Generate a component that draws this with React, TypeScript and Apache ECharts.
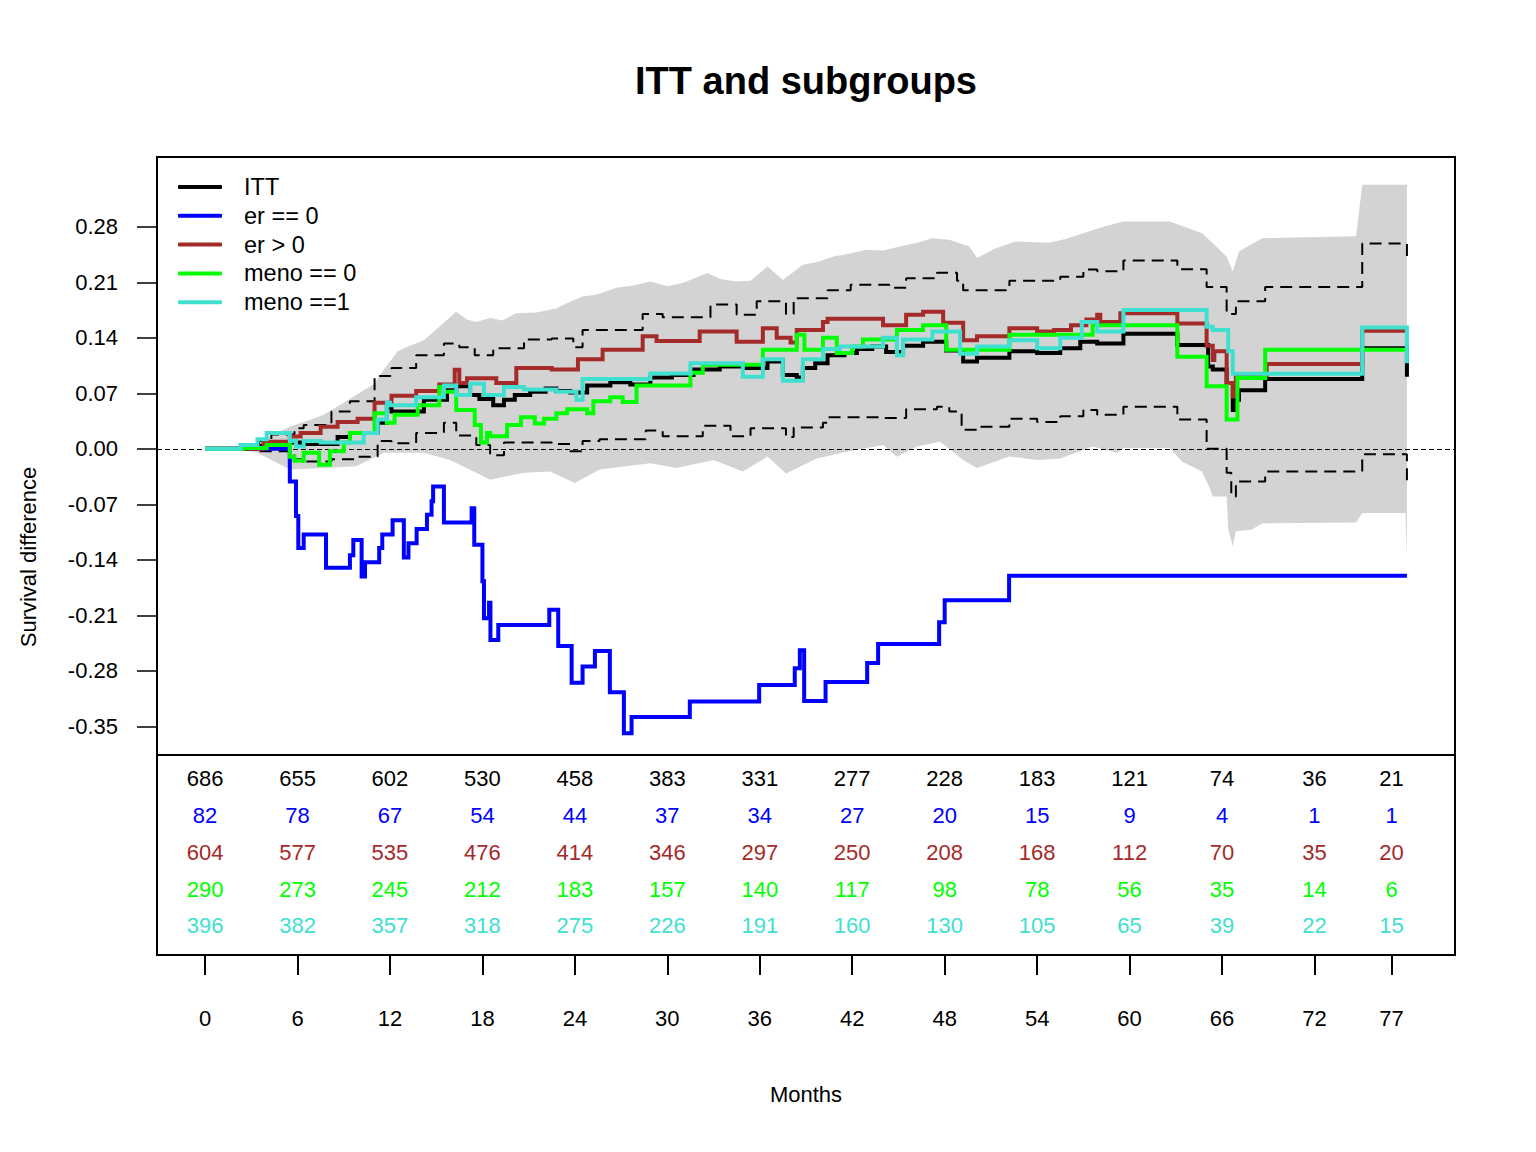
import React, { useEffect, useRef } from "react";
import * as echarts from "echarts";

const FONT = '"Liberation Sans", Arial, Helvetica, sans-serif';

// ---- data ----
const ittData = [[0,0],[3.0,0.004],[4.0,0.008],[5.5,0.008],[6.2,0.006],[8.6,0.015],[9.4,0.020],[11.2,0.033],[11.8,0.053],[12.1,0.047],[14.2,0.062],[15.7,0.074],[16.3,0.079],[17.2,0.068],[17.8,0.063],[18.7,0.055],[19.4,0.062],[20.1,0.068],[21.1,0.072],[22.1,0.076],[22.8,0.073],[23.7,0.071],[24.8,0.080],[26.3,0.084],[27.6,0.081],[28.9,0.090],[30.3,0.093],[31.7,0.100],[33.4,0.104],[35.0,0.102],[36.5,0.110],[37.5,0.093],[38.4,0.090],[38.8,0.102],[39.6,0.108],[40.4,0.118],[41.5,0.121],[42.3,0.126],[43.3,0.129],[44.2,0.122],[45.3,0.130],[46.6,0.135],[48.1,0.124],[49.2,0.110],[50.1,0.115],[52.2,0.123],[54.0,0.121],[55.5,0.127],[56.8,0.135],[57.9,0.133],[59.6,0.145],[63.1,0.131],[65.1,0.104],[65.4,0.100],[66.3,0.083],[66.7,0.049],[66.8,0.062],[67.1,0.074],[68.8,0.088],[75.1,0.127],[78.0,0.091]];

const er0Data = [[0,0],[5.5,-0.041],[5.9,-0.0845],[6.05,-0.125],[6.4,-0.108],[7.85,-0.150],[9.4,-0.134],[9.62,-0.115],[10.16,-0.161],[10.38,-0.143],[11.3,-0.125],[11.5,-0.108],[12.17,-0.090],[12.9,-0.137],[13.2,-0.119],[13.73,-0.101],[14.4,-0.083],[14.7,-0.066],[14.8,-0.0475],[15.5,-0.093],[17.3,-0.075],[17.47,-0.121],[18.0,-0.167],[18.1,-0.2135],[18.43,-0.194],[18.52,-0.241],[19.03,-0.222],[22.34,-0.203],[22.92,-0.2485],[23.79,-0.295],[24.5,-0.2745],[25.3,-0.255],[26.27,-0.307],[27.18,-0.3587],[27.68,-0.338],[31.46,-0.3187],[35.96,-0.2976],[38.27,-0.2766],[38.6,-0.254],[38.88,-0.318],[40.27,-0.294],[42.97,-0.270],[43.68,-0.246],[47.64,-0.2186],[48.0,-0.191],[52.18,-0.160],[78.0,-0.160]];

const erPosData = [[0,0],[3.8,0.009],[5.5,0.0155],[6.2,0.02],[7.5,0.028],[8.6,0.034],[9.9,0.038],[11.0,0.058],[12.1,0.067],[13.7,0.073],[15.2,0.081],[16.2,0.0996],[16.5,0.083],[17.0,0.089],[18.9,0.083],[20.2,0.102],[22.5,0.100],[24.2,0.113],[25.8,0.125],[28.4,0.142],[29.3,0.136],[32.1,0.148],[34.5,0.135],[36.2,0.152],[37.1,0.14],[38.0,0.134],[38.4,0.150],[40.1,0.16],[40.4,0.164],[44.0,0.156],[45.5,0.169],[46.6,0.173],[47.9,0.159],[49.2,0.137],[50.1,0.142],[52.2,0.152],[54.0,0.148],[55.1,0.15],[56.2,0.156],[57.2,0.163],[57.9,0.169],[58.1,0.16],[59.4,0.171],[63.1,0.158],[65.0,0.13],[65.4,0.112],[65.5,0.123],[66.3,0.083],[66.7,0.066],[66.9,0.093],[68.9,0.107],[75.1,0.149],[78.0,0.149]];

const meno0Data = [[0,0],[2.5,0.001],[4.0,0.005],[5.5,-0.010],[5.8,-0.015],[6.4,-0.005],[7.4,-0.020],[8.1,-0.003],[9.0,0.008],[9.4,0.02],[11.0,0.045],[11.8,0.033],[12.3,0.043],[13.8,0.055],[15.2,0.078],[15.5,0.072],[16.3,0.049],[17.5,0.030],[17.9,0.008],[18.3,0.02],[18.5,0.016],[19.6,0.03],[20.5,0.04],[21.4,0.032],[22.0,0.038],[22.8,0.045],[23.5,0.05],[24.8,0.045],[25.2,0.06],[26.3,0.065],[27.1,0.059],[28.0,0.08],[31.5,0.096],[32.3,0.106],[36.2,0.125],[38.4,0.144],[38.9,0.125],[40.1,0.14],[41.0,0.121],[42.0,0.129],[42.7,0.138],[44.9,0.150],[46.6,0.156],[48.1,0.125],[52.2,0.144],[57.6,0.156],[63.1,0.116],[65.0,0.079],[66.3,0.037],[67.0,0.0895],[68.8,0.125],[78.0,0.125]];

const meno1Data = [[0,0],[2.3,0.005],[3.4,0.012],[4.0,0.02],[5.5,0.01],[5.9,0.003],[6.4,0.01],[7.5,0.008],[10.3,0.02],[11.2,0.037],[11.8,0.058],[12.0,0.055],[13.7,0.065],[15.5,0.08],[16.3,0.068],[17.2,0.082],[18.1,0.068],[19.4,0.078],[20.7,0.075],[22.8,0.072],[24.1,0.062],[24.5,0.088],[28.9,0.095],[31.5,0.108],[34.9,0.091],[36.2,0.113],[37.5,0.086],[38.8,0.113],[40.1,0.126],[41.2,0.129],[44.0,0.14],[44.9,0.118],[45.3,0.138],[47.2,0.148],[49.0,0.12],[50.1,0.129],[52.2,0.137],[54.0,0.127],[55.5,0.14],[56.9,0.16],[57.9,0.148],[59.6,0.175],[65.0,0.154],[65.4,0.150],[66.4,0.123],[66.7,0.0946],[75.1,0.153],[78.0,0.108]];

const ciUpper = [[0,0],[3.5,0.01],[4.3,0.018],[5.8,0.026],[6.4,0.03],[8.2,0.047],[9.4,0.06],[11.0,0.092],[12.1,0.102],[13.7,0.118],[15.5,0.133],[16.5,0.128],[17.5,0.118],[18.7,0.127],[20.7,0.138],[22.5,0.139],[23.9,0.128],[24.5,0.150],[28.4,0.17],[29.7,0.166],[32.8,0.182],[34.5,0.169],[35.8,0.186],[37.7,0.17],[38.2,0.19],[40.4,0.2],[41.9,0.207],[44.4,0.203],[45.5,0.215],[47.5,0.222],[48.8,0.212],[49.2,0.2],[52.2,0.212],[55.5,0.217],[57.0,0.226],[57.9,0.224],[59.6,0.2375],[63.1,0.2266],[65.0,0.204],[66.3,0.17],[66.9,0.186],[68.8,0.204],[75.1,0.259],[78.0,0.236]];

const ciLower = [[0,0],[3.5,-0.003],[5.8,-0.013],[6.4,-0.016],[8.2,-0.013],[9.9,-0.01],[11.2,0.01],[12.1,0.007],[13.7,0.02],[15.5,0.033],[16.3,0.017],[17.6,0.005],[18.5,-0.008],[19.4,0.008],[22.5,0.006],[23.7,-0.003],[24.5,0.01],[25.6,0.012],[28.6,0.023],[29.7,0.016],[32.3,0.029],[34.1,0.016],[35.4,0.026],[37.7,0.015],[38.2,0.027],[40.1,0.033],[40.4,0.04],[44.0,0.039],[45.5,0.05],[47.5,0.053],[48.3,0.047],[49.1,0.024],[50.1,0.028],[52.2,0.038],[54.0,0.034],[55.5,0.041],[57.0,0.049],[57.9,0.043],[59.6,0.053],[63.1,0.037],[65.0,0.0],[66.3,-0.03],[66.6,-0.06],[66.9,-0.041],[68.8,-0.0286],[75.1,-0.0067],[78.0,-0.0475]];

const bandUpper = [[0,0],[2.3,0.0],[3.4,0.009],[5.5,0.028],[6.6,0.035],[7.7,0.043],[9.0,0.058],[10.3,0.074],[11.0,0.082],[11.6,0.0996],[12.5,0.123],[13.3,0.13],[14.2,0.137],[15.2,0.154],[16.3,0.173],[17.0,0.163],[17.6,0.16],[18.5,0.165],[19.3,0.162],[20.2,0.171],[21.5,0.172],[22.8,0.177],[23.6,0.185],[24.5,0.192],[25.5,0.195],[26.7,0.203],[27.8,0.206],[28.9,0.211],[30.0,0.205],[31.0,0.209],[32.6,0.2216],[33.5,0.214],[34.5,0.211],[35.4,0.212],[36.5,0.23],[37.5,0.213],[38.8,0.232],[39.8,0.236],[40.8,0.2425],[41.8,0.246],[42.9,0.251],[44.0,0.25],[45.1,0.255],[46.2,0.26],[47.2,0.2657],[48.3,0.2636],[49.6,0.255],[50.1,0.2405],[51.2,0.252],[52.6,0.2615],[54.8,0.26],[55.9,0.265],[57.0,0.272],[58.3,0.28],[59.6,0.2867],[62.6,0.2867],[64.7,0.272],[65.4,0.2594],[66.3,0.2425],[66.7,0.2236],[67.1,0.249],[68.6,0.2657],[74.7,0.268],[75.1,0.333],[78.0,0.333]];

const bandLower = [[0,0],[2.3,0.0],[3.4,-0.005],[5.5,-0.026],[7.7,-0.024],[9.8,-0.022],[11.6,-0.005],[14.2,-0.005],[15.9,-0.014],[17.6,-0.030],[18.5,-0.039],[20.7,-0.03],[22.4,-0.0286],[24.0,-0.043],[25.6,-0.026],[28.9,-0.018],[30.6,-0.024],[33.0,-0.014],[34.9,-0.0286],[36.5,-0.0097],[37.7,-0.031],[39.7,-0.012],[41.8,-0.003],[44.0,0.005],[44.9,-0.01],[46.2,0.003],[47.7,0.009],[49.2,-0.014],[50.1,-0.024],[52.2,-0.0097],[54.0,-0.014],[55.5,-0.012],[57.6,0.003],[59.2,-0.005],[59.6,0.001],[62.6,0.001],[63.4,-0.016],[64.7,-0.0286],[65.2,-0.0496],[65.4,-0.06],[66.3,-0.06],[66.4,-0.1],[66.7,-0.123],[66.9,-0.104],[67.9,-0.102],[68.6,-0.094],[74.7,-0.093],[75.1,-0.081],[77.9,-0.081],[78.0,-0.136]];

const yTicks = [-0.35, -0.28, -0.21, -0.14, -0.07, 0, 0.07, 0.14, 0.21, 0.28];
const riskTimes = [0, 6, 12, 18, 24, 30, 36, 42, 48, 54, 60, 66, 72, 77];
const riskITT = [686, 655, 602, 530, 458, 383, 331, 277, 228, 183, 121, 74, 36, 21];
const riskEr0 = [82, 78, 67, 54, 44, 37, 34, 27, 20, 15, 9, 4, 1, 1];
const riskErPos = [604, 577, 535, 476, 414, 346, 297, 250, 208, 168, 112, 70, 35, 20];
const riskMeno0 = [290, 273, 245, 212, 183, 157, 140, 117, 98, 78, 56, 35, 14, 6];
const riskMeno1 = [396, 382, 357, 318, 275, 226, 191, 160, 130, 105, 65, 39, 22, 15];

const names = ["ITT", "er == 0", "er > 0", "meno == 0", "meno ==1"];
const colors = ["#000000", "#0000ff", "#a52a2a", "#00ff00", "#40e0d0"];
const curves = [ittData, er0Data, erPosData, meno0Data, meno1Data];
const risks = [riskITT, riskEr0, riskErPos, riskMeno0, riskMeno1];

const X_MIN = -3.12;
const X_MAX = 81.12;

export default function App() {
  const ref = useRef<HTMLDivElement>(null);
  useEffect(() => {
    if (!ref.current) return;
    const chart = echarts.init(ref.current, null, { renderer: "svg" });

    const lineSeries = curves.map((d, i) => ({
      name: names[i],
      type: "line",
      step: "end",
      xAxisIndex: 0,
      yAxisIndex: 0,
      data: d,
      symbol: "none",
      showSymbol: false,
      z: 5,
      lineStyle: { color: colors[i], width: 4, cap: "butt", join: "miter" },
      itemStyle: { color: colors[i] },
    }));

    const riskSeries = risks.map((r, i) => ({
      name: "n " + names[i],
      type: "scatter",
      xAxisIndex: 2,
      yAxisIndex: 2,
      symbolSize: 0,
      itemStyle: { opacity: 1, color: colors[i] },
      data: riskTimes.map((t, j) => [t, i, r[j]]),
      label: {
        show: true,
        position: "inside",
        formatter: (p: any) => String(p.value[2]),
        color: colors[i],
        opacity: 1,
        fontSize: 22,
        fontFamily: FONT,
      },
      silent: true,
    }));

    const option: any = {
      animation: false,
      backgroundColor: "#ffffff",
      title: {
        text: "ITT and subgroups",
        left: 630,
        top: 57,
        textStyle: { fontSize: 38, fontWeight: "bold", fontFamily: FONT, color: "#000" },
      },
      legend: {
        data: names.map((n) => ({ name: n, icon: "roundRect" })),
        orient: "vertical",
        left: 173,
        top: 170,
        itemWidth: 44,
        itemHeight: 4,
        itemGap: 4.8,
        selectedMode: false,
        textStyle: { fontSize: 23.5, fontFamily: FONT, color: "#000", lineHeight: 23.5, padding: [0, 0, 0, 17] },
      },
      grid: [
        { left: 157, top: 157, width: 1298, height: 598, show: true, borderColor: "#000", borderWidth: 2, backgroundColor: "transparent" },
        { left: 157, top: 755, width: 1298, height: 200, show: true, borderColor: "#000", borderWidth: 2, backgroundColor: "transparent" },
        { left: 157, top: 760.6, width: 1298, height: 183.75, show: false },
      ],
      xAxis: [
        { type: "value", gridIndex: 0, min: X_MIN, max: X_MAX, show: false },
        {
          type: "value",
          gridIndex: 1,
          min: X_MIN,
          max: X_MAX,
          position: "bottom",
          axisLine: { show: false, onZero: false },
          splitLine: { show: false },
          axisTick: { show: true, customValues: riskTimes, length: 20, lineStyle: { color: "#000", width: 2 } },
          axisLabel: { show: true, customValues: riskTimes, margin: 52, fontSize: 22, fontFamily: FONT, color: "#000" },
          name: "Months",
          nameLocation: "middle",
          nameGap: 128,
          nameTextStyle: { fontSize: 22, fontFamily: FONT, color: "#000" },
        },
        { type: "value", gridIndex: 2, min: X_MIN, max: X_MAX, show: false },
      ],
      yAxis: [
        {
          type: "value",
          gridIndex: 0,
          min: -0.386,
          max: 0.368,
          position: "left",
          axisLine: { show: false, onZero: false },
          splitLine: { show: false },
          axisTick: { show: true, customValues: yTicks, length: 20, lineStyle: { color: "#000", width: 1.5 } },
          axisLabel: {
            show: true,
            customValues: yTicks,
            margin: 39,
            fontSize: 22,
            fontFamily: FONT,
            color: "#000",
            formatter: (v: number) => v.toFixed(2),
          },
        },
        { type: "value", gridIndex: 1, min: 0, max: 1, show: false },
        { type: "category", gridIndex: 2, data: ["0", "1", "2", "3", "4"], inverse: true, show: false },
      ],
      graphic: [
        {
          type: "text",
          x: 28,
          y: 557,
          rotation: Math.PI / 2,
          style: {
            text: "Survival difference",
            fontSize: 22,
            fontFamily: FONT,
            fill: "#000",
            align: "center",
            verticalAlign: "middle",
          },
        },
      ],
      series: [
        {
          name: "band",
          type: "custom",
          xAxisIndex: 0,
          yAxisIndex: 0,
          data: [[0, 0]],
          silent: true,
          z: 1,
          renderItem: (params: any, api: any) => {
            const pts = bandUpper
              .map((p) => api.coord(p))
              .concat(bandLower.slice().reverse().map((p) => api.coord(p)));
            return { type: "polygon", shape: { points: pts }, style: { fill: "#d3d3d3" } };
          },
        },
        {
          name: "zero",
          type: "line",
          xAxisIndex: 0,
          yAxisIndex: 0,
          data: [],
          z: 3,
          markLine: {
            silent: true,
            symbol: "none",
            label: { show: false },
            lineStyle: { color: "#000", width: 1, type: [5, 3] },
            data: [{ yAxis: 0 }],
          },
        },
        {
          name: "ci upper",
          type: "line",
          step: "end",
          data: ciUpper,
          symbol: "none",
          z: 3,
          lineStyle: { color: "#000", width: 2, type: [12, 7] },
        },
        {
          name: "ci lower",
          type: "line",
          step: "end",
          data: ciLower,
          symbol: "none",
          z: 3,
          lineStyle: { color: "#000", width: 2, type: [12, 7] },
        },
        ...lineSeries,
        ...riskSeries,
      ],
    };
    chart.setOption(option);
    return () => chart.dispose();
  }, []);
  return (
    <div
      ref={ref}
      style={{ position: "fixed", left: 0, top: 0, width: 1536, height: 1152, background: "#fff" }}
    />
  );
}
